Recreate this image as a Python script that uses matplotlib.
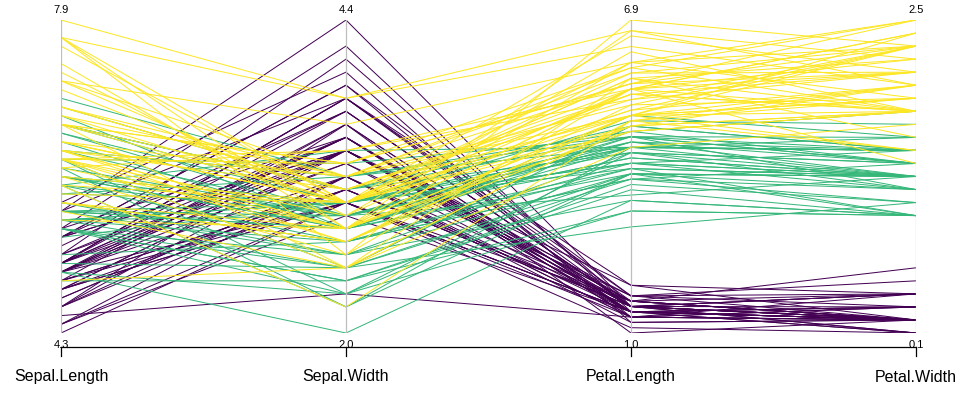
import matplotlib
matplotlib.use("Agg")
import matplotlib.pyplot as plt
import numpy as np

sepal_length = [5.1,4.9,4.7,4.6,5.0,5.4,4.6,5.0,4.4,4.9,5.4,4.8,4.8,4.3,5.8,5.7,5.4,5.1,5.7,5.1,
                5.4,5.1,4.6,5.1,4.8,5.0,5.0,5.2,5.2,4.7,4.8,5.4,5.2,5.5,4.9,5.0,5.5,4.9,4.4,5.1,
                5.0,4.5,4.4,5.0,5.1,4.8,5.1,4.6,5.3,5.0,
                7.0,6.4,6.9,5.5,6.5,5.7,6.3,4.9,6.6,5.2,5.0,5.9,6.0,6.1,5.6,6.7,5.6,5.8,6.2,5.6,
                5.9,6.1,6.3,6.1,6.4,6.6,6.8,6.7,6.0,5.7,5.5,5.5,5.8,6.0,5.4,6.0,6.7,6.3,5.6,5.5,
                5.5,6.1,5.8,5.0,5.6,5.7,5.7,6.2,5.1,5.7,
                6.3,5.8,7.1,6.3,6.5,7.6,4.9,7.3,6.7,7.2,6.5,6.4,6.8,5.7,5.8,6.4,6.5,7.7,7.7,6.0,
                6.9,5.6,7.7,6.3,6.7,7.2,6.2,6.1,6.4,7.2,7.4,7.9,6.4,6.3,6.1,7.7,6.3,6.4,6.0,6.9,
                6.7,6.9,5.8,6.8,6.7,6.7,6.3,6.5,6.2,5.9]
sepal_width = [3.5,3.0,3.2,3.1,3.6,3.9,3.4,3.4,2.9,3.1,3.7,3.4,3.0,3.0,4.0,4.4,3.9,3.5,3.8,3.8,
               3.4,3.7,3.6,3.3,3.4,3.0,3.4,3.5,3.4,3.2,3.1,3.4,4.1,4.2,3.1,3.2,3.5,3.6,3.0,3.4,
               3.5,2.3,3.2,3.5,3.8,3.0,3.8,3.2,3.7,3.3,
               3.2,3.2,3.1,2.3,2.8,2.8,3.3,2.4,2.9,2.7,2.0,3.0,2.2,2.9,2.9,3.1,3.0,2.7,2.2,2.5,
               3.2,2.8,2.5,2.8,2.9,3.0,2.8,3.0,2.9,2.6,2.4,2.4,2.7,2.7,3.0,3.4,3.1,2.3,3.0,2.5,
               2.6,3.0,2.6,2.3,2.7,3.0,2.9,2.9,2.5,2.8,
               3.3,2.7,3.0,2.9,3.0,3.0,2.5,2.9,2.5,3.6,3.2,2.7,3.0,2.5,2.8,3.2,3.0,3.8,2.6,2.2,
               3.2,2.8,2.8,2.7,3.3,3.2,2.8,3.0,2.8,3.0,2.8,3.8,2.8,2.8,2.6,3.0,3.4,3.1,3.0,3.1,
               3.1,3.1,2.7,3.2,3.3,3.0,2.5,3.0,3.4,3.0]
petal_length = [1.4,1.4,1.3,1.5,1.4,1.7,1.4,1.5,1.4,1.5,1.5,1.6,1.4,1.1,1.2,1.5,1.3,1.4,1.7,1.5,
                1.7,1.5,1.0,1.7,1.9,1.6,1.6,1.5,1.4,1.6,1.6,1.5,1.5,1.4,1.5,1.2,1.3,1.4,1.3,1.5,
                1.3,1.3,1.3,1.6,1.9,1.4,1.6,1.4,1.5,1.4,
                4.7,4.5,4.9,4.0,4.6,4.5,4.7,3.3,4.6,3.9,3.5,4.2,4.0,4.7,3.6,4.4,4.5,4.1,4.5,3.9,
                4.8,4.0,4.9,4.7,4.3,4.4,4.8,5.0,4.5,3.5,3.8,3.7,3.9,5.1,4.5,4.5,4.7,4.4,4.1,4.0,
                4.4,4.6,4.0,3.3,4.2,4.2,4.2,4.3,3.0,4.1,
                6.0,5.1,5.9,5.6,5.8,6.6,4.5,6.3,5.8,6.1,5.1,5.3,5.5,5.0,5.1,5.3,5.5,6.7,6.9,5.0,
                5.7,4.9,6.7,4.9,5.7,6.0,4.8,4.9,5.6,5.8,6.1,6.4,5.6,5.1,5.6,6.1,5.6,5.5,4.8,5.4,
                5.6,5.1,5.1,5.9,5.7,5.2,5.0,5.2,5.4,5.1]
petal_width = [0.2,0.2,0.2,0.2,0.2,0.4,0.3,0.2,0.2,0.1,0.2,0.2,0.1,0.1,0.2,0.4,0.4,0.3,0.3,0.3,
               0.2,0.4,0.2,0.5,0.2,0.2,0.4,0.2,0.2,0.2,0.2,0.4,0.1,0.2,0.2,0.2,0.2,0.1,0.2,0.2,
               0.3,0.3,0.2,0.6,0.4,0.3,0.2,0.2,0.2,0.2,
               1.4,1.5,1.5,1.3,1.5,1.3,1.6,1.0,1.3,1.4,1.0,1.5,1.0,1.4,1.3,1.4,1.5,1.0,1.5,1.1,
               1.8,1.3,1.5,1.2,1.3,1.4,1.4,1.7,1.5,1.0,1.1,1.0,1.2,1.6,1.5,1.6,1.5,1.3,1.3,1.3,
               1.2,1.4,1.2,1.0,1.3,1.2,1.3,1.3,1.1,1.3,
               2.5,1.9,2.1,1.8,2.2,2.1,1.7,1.8,1.8,2.5,2.0,1.9,2.1,2.0,2.4,2.3,1.8,2.2,2.3,1.5,
               2.3,2.0,2.0,1.8,2.1,1.8,1.8,1.8,2.1,1.6,1.9,2.0,2.2,1.5,1.4,2.3,2.4,1.8,1.8,2.1,
               2.4,2.3,1.9,2.3,2.5,2.3,1.9,2.0,2.3,1.8]
species = ["setosa"] * 50 + ["versicolor"] * 50 + ["virginica"] * 50
variables = ["Sepal.Length", "Sepal.Width", "Petal.Length", "Petal.Width"]
species_colors = {"setosa": "#440154", "versicolor": "#35B779", "virginica": "#FDE725"}

W, H = 969, 394
fig = plt.figure(figsize=(W / 100, H / 100), dpi=100)
x0, x1 = 61, 916
ytop, ybot = 20, 333
ax = fig.add_axes([x0 / W, (H - ybot) / H, (x1 - x0) / W, (ybot - ytop) / H])
ax.set_xlim(0, 3)
ax.set_ylim(0, 1)
ax.axis("off")

data = np.array([sepal_length, sepal_width, petal_length, petal_width]).T
mins = data.min(axis=0)
maxs = data.max(axis=0)
norm = (data - mins) / (maxs - mins)
xs = np.arange(len(variables))

for row, sp in zip(norm, species):
    ax.plot(xs, row, color=species_colors[sp], lw=0.72, solid_capstyle="butt", zorder=2)

for i in xs:
    ax.plot([i, i], [0, 1], color="#BEBEBE", lw=0.9, zorder=3)

px = 1.0 / (ybot - ytop)
ax.plot([0, 3], [-14 * px, -14 * px], color="black", lw=0.9, clip_on=False, zorder=4)
for i, name in enumerate(variables):
    ax.plot([i, i], [-14 * px, -23 * px], color="black", lw=0.9, clip_on=False, zorder=4)
    ax.text(i, 1 + 10 * px, f"{maxs[i]:.1f}", ha="center", va="center",
            fontsize=8, family="Liberation Sans", clip_on=False)
    ax.text(i, -11.5 * px, f"{mins[i]:.1f}", ha="center", va="center",
            fontsize=8, family="Liberation Sans", clip_on=False)
    ax.text(i, -44 * px, name, ha="center", va="center",
            fontsize=11.5, family="Liberation Sans", clip_on=False)

fig.savefig("out.png", dpi=100)
